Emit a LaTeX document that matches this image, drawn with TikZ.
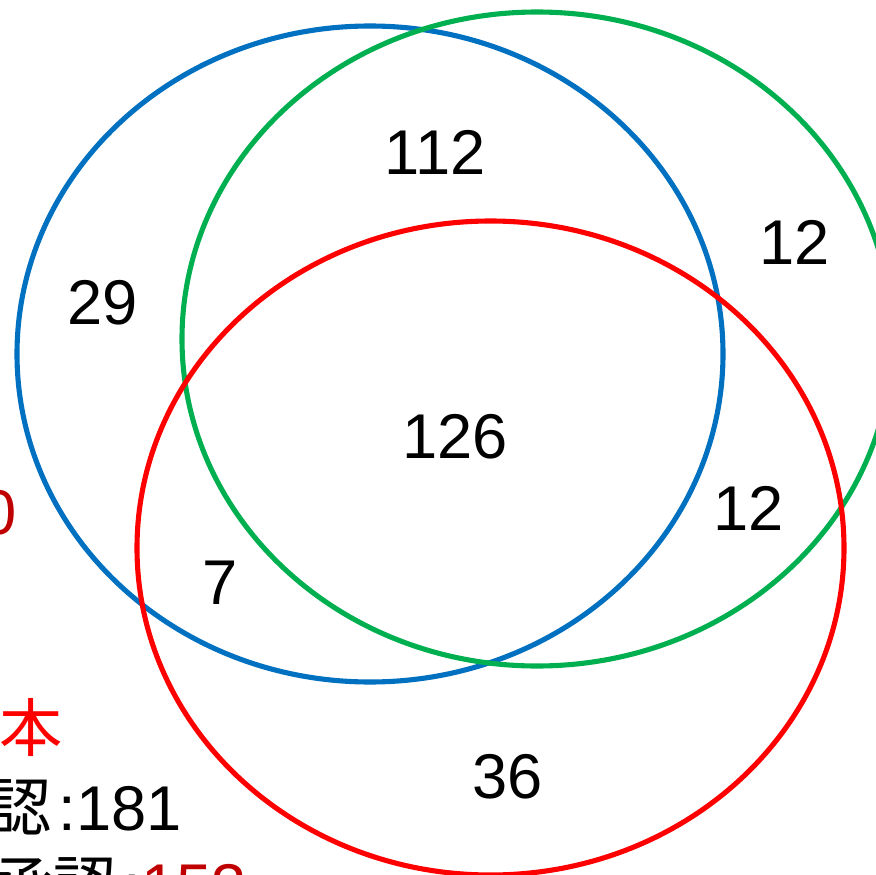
\documentclass[tikz,border=0pt]{standalone}
\usepackage{fontspec}
\setmainfont{Liberation Sans}
\newfontfamily\cjk{Noto Sans CJK JP}
\usepackage{tikz}
\usetikzlibrary{positioning}
\definecolor{vBlue}{HTML}{0070C0}
\definecolor{vGreen}{HTML}{00B050}
\definecolor{vRed}{HTML}{FF0000}
\definecolor{vDark}{HTML}{C00000}
\tikzset{
  ring/.style={line width=2.9pt},
  cnt/.style={inner sep=0pt, font=\fontsize{36}{40}\selectfont, text=black},
}
\begin{document}
\begin{tikzpicture}[x=0.02cm, y=-0.02cm,
  side/.style={cnt, inner sep=0pt}]
\useasboundingbox (0,0) rectangle (876,875);
\clip (0,0) rectangle (876,875);
\fill[white] (0,0) rectangle (876,875);
\draw[ring, vBlue] (370,354) ellipse [x radius=353, y radius=328];
\draw[ring, vGreen] (537,339) ellipse [x radius=355, y radius=327];
\draw[ring, vRed] (490.5,548) ellipse [x radius=353.5, y radius=327];
\node[cnt] (n112) at (435,152) {112};
\node[cnt] (n12a) at (795,242) {12};
\node[cnt] (n29) at (103,303) {29};
\node[cnt] (n126) at (455,437) {126};
\node[cnt] (n12b) at (749,508) {12};
\node[cnt] (n7) at (220,583) {7};
\node[cnt] (n36) at (508,777) {36};
% left side, cut by the edge
\node[side, text=vDark, anchor=east] (zero) at (17,513) {0};
\node[side, text=vRed, anchor=east] (hon) at (63,727) {\cjk 本};
\node[side, anchor=base west] (v181) at (76,830) {181};
\node[side, anchor=base east] (lbl181) at (v181.base west) {{\cjk 承認}\hspace{0.1em}:\hspace{0.1em}};
\node[side, text=vDark, anchor=base west] (v153) at (141,908) {153};
\node[side, anchor=base east] (lbl153) at (v153.base west) {{\cjk 未承認}\hspace{0.1em}:\hspace{0.1em}};
\end{tikzpicture}
\end{document}
